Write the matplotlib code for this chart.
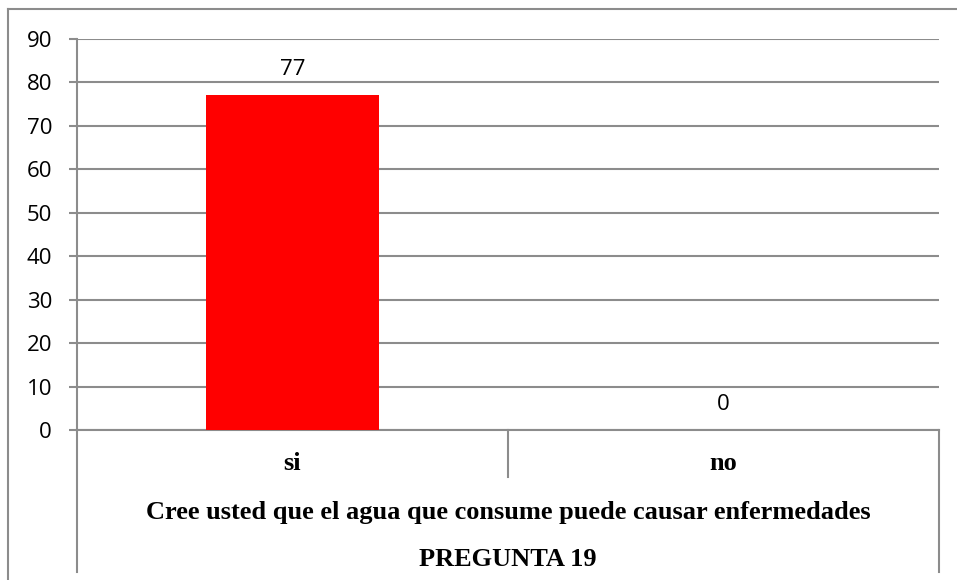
import matplotlib.pyplot as plt
from matplotlib.lines import Line2D
import numpy as np

categorias = ['si', 'no']
valores = [77, 0]
titulo_eje = 'Cree usted que el agua que consume puede causar enfermedades'
pregunta = 'PREGUNTA 19'
yticks = list(range(0, 100, 10))

gris = '#8c8c8c'
fig = plt.figure(figsize=(9.57, 5.8), dpi=100)
ax = fig.add_axes([0.0805, 0.2586, 0.9007, 0.6742])

x = np.arange(len(categorias))
barras = ax.bar(x, valores, 0.4, color='#ff0000', zorder=3)
ax.set_xlim(-0.5, len(categorias) - 0.5)
ax.set_ylim(0, 90)
ax.set_yticks(yticks)
ax.yaxis.grid(True, color=gris, linewidth=1.5, zorder=0)
ax.set_xticks([])

for s in ['top', 'right']:
    ax.spines[s].set_visible(False)
for s in ['left', 'bottom']:
    ax.spines[s].set_color(gris)
    ax.spines[s].set_linewidth(1.5)
ax.tick_params(axis='y', length=6, width=1.5, color=gris, pad=12, labelsize=16)
for t in ax.get_yticklabels():
    t.set_family('Open Sans')

for xi, v in zip(x, valores):
    ax.annotate(str(v), (xi, v), xytext=(0, 18.5), textcoords='offset points',
                ha='center', va='center', fontsize=16, family='Open Sans')

# tabla de categorias bajo el eje
tr = ax.get_xaxis_transform()
for xl, y0 in [(-0.5, -0.363), (1.5, -0.363), (0.5, -0.12)]:
    ax.add_line(Line2D([xl, xl], [0, y0], transform=tr, color=gris,
                       linewidth=1.5, clip_on=False))
for xi, c in zip(x, categorias):
    ax.text(xi, -0.086, c, transform=tr, ha='center', va='center',
            fontsize=19, fontweight='bold', family='Liberation Serif')
ax.text(0.5, -0.212, titulo_eje, transform=tr, ha='center', va='center',
        fontsize=19, fontweight='bold', family='Liberation Serif')
ax.text(0.5, -0.33, pregunta, transform=tr, ha='center', va='center',
        fontsize=19, fontweight='bold', family='Liberation Serif')

# borde exterior del grafico
fig.add_artist(Line2D([0.00836, 1.0], [0.9845, 0.9845], color=gris, linewidth=1.5))
fig.add_artist(Line2D([0.00836, 0.00836], [0.0, 0.9845], color=gris, linewidth=1.5))

fig.savefig('out.png', dpi=100)
